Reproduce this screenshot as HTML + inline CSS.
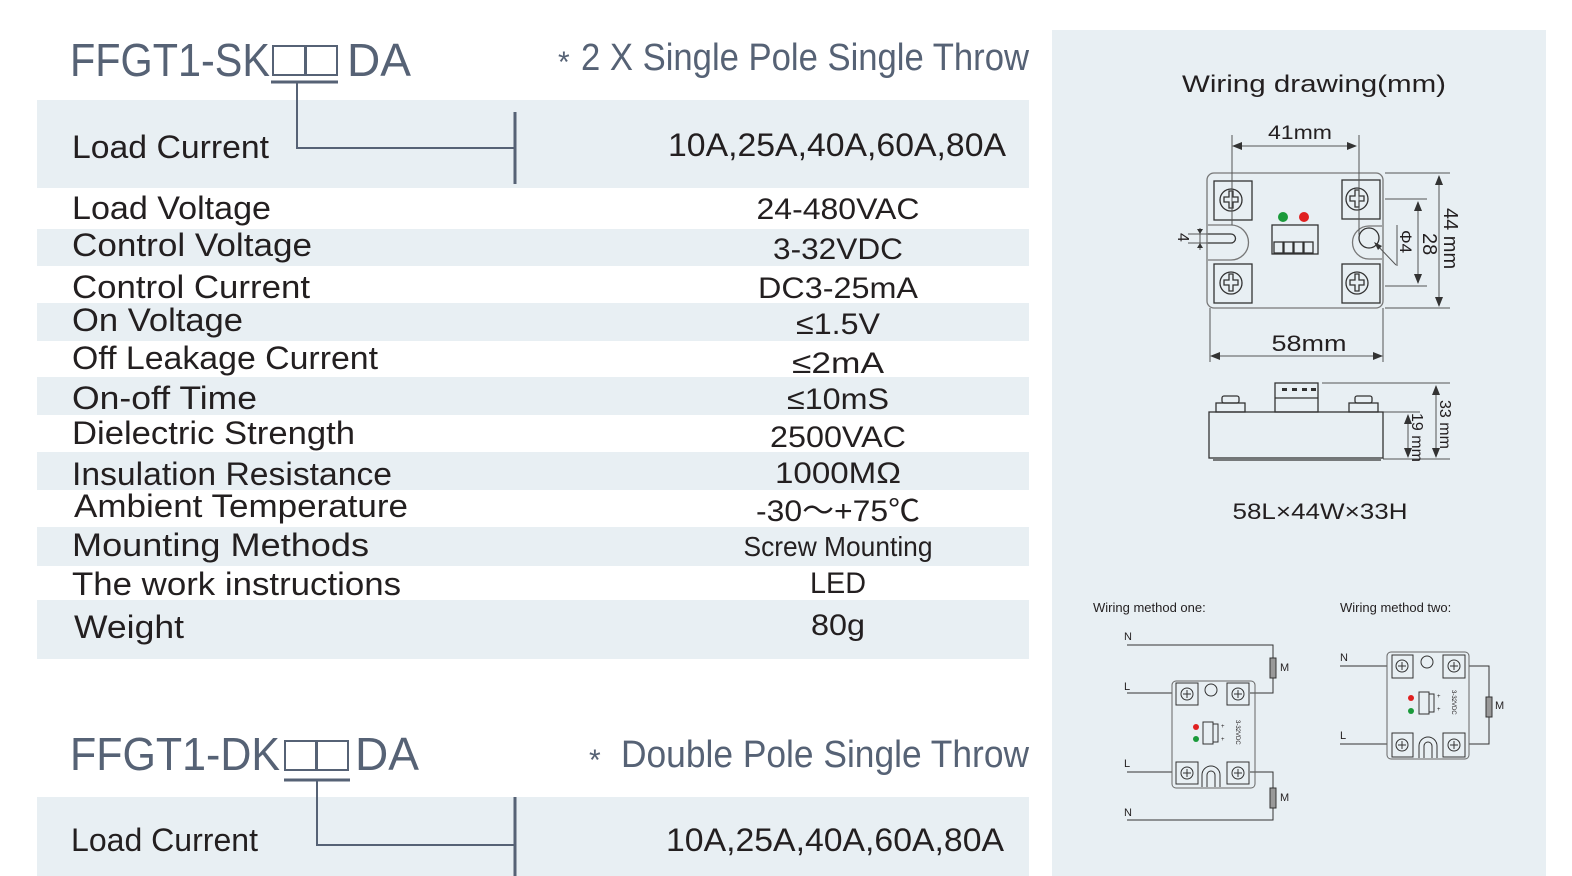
<!DOCTYPE html>
<html><head><meta charset="utf-8"><style>
html,body{margin:0;padding:0;background:#fff;width:1572px;height:876px;overflow:hidden;}
svg{display:block;position:absolute;left:0;top:0;}
text{font-family:"Liberation Sans",sans-serif;}
</style></head><body>
<svg width="1572" height="876" viewBox="0 0 1572 876" xmlns="http://www.w3.org/2000/svg">
<g fill="#e8eff3">
<rect x="37" y="100" width="992" height="88"/>
<rect x="37" y="229" width="992" height="37"/>
<rect x="37" y="303" width="992" height="38"/>
<rect x="37" y="377" width="992" height="38"/>
<rect x="37" y="452" width="992" height="38"/>
<rect x="37" y="527" width="992" height="39"/>
<rect x="37" y="600" width="992" height="59"/>
<rect x="37" y="797" width="992" height="79"/>
<rect x="1052" y="30" width="494" height="846"/>
</g>
<g fill="#566275">
<text x="70" y="76" font-size="46" textLength="200" lengthAdjust="spacingAndGlyphs">FFGT1-SK</text>
<text x="347" y="76" font-size="46" textLength="64" lengthAdjust="spacingAndGlyphs">DA</text>
<text x="558" y="72" font-size="30">*</text>
<text x="581" y="70" font-size="38" textLength="448" lengthAdjust="spacingAndGlyphs">2 X Single Pole Single Throw</text>
<text x="70" y="770" font-size="46" textLength="210" lengthAdjust="spacingAndGlyphs">FFGT1-DK</text>
<text x="355" y="770" font-size="46" textLength="64" lengthAdjust="spacingAndGlyphs">DA</text>
<text x="589" y="770" font-size="30">*</text>
<text x="621" y="767" font-size="38" textLength="408" lengthAdjust="spacingAndGlyphs">Double Pole Single Throw</text>
</g>
<g fill="none" stroke="#566275" stroke-width="2">
<rect x="273" y="46" width="32" height="29"/><rect x="306" y="46" width="31" height="29"/>
<rect x="285" y="741" width="31" height="29"/><rect x="317" y="741" width="31" height="29"/>
</g>
<g stroke="#566275" fill="none">
<line x1="271" y1="82" x2="338" y2="82" stroke-width="3"/>
<polyline points="297,82 297,148 515,148" stroke-width="2"/>
<line x1="515" y1="112" x2="515" y2="184" stroke-width="3"/>
<line x1="284" y1="780" x2="350" y2="780" stroke-width="3"/>
<polyline points="317,780 317,845 515,845" stroke-width="2"/>
<line x1="515" y1="797" x2="515" y2="876" stroke-width="3"/>
</g>
<g fill="#231f20" font-size="32">
<text x="72" y="158" textLength="197" lengthAdjust="spacingAndGlyphs">Load Current</text>
<text x="72" y="219" textLength="199" lengthAdjust="spacingAndGlyphs">Load Voltage</text>
<text x="72" y="256" textLength="240" lengthAdjust="spacingAndGlyphs">Control Voltage</text>
<text x="72" y="298" textLength="238" lengthAdjust="spacingAndGlyphs">Control Current</text>
<text x="72" y="331" textLength="171" lengthAdjust="spacingAndGlyphs">On Voltage</text>
<text x="72" y="369" textLength="306" lengthAdjust="spacingAndGlyphs">Off Leakage Current</text>
<text x="72" y="409" textLength="185" lengthAdjust="spacingAndGlyphs">On-off Time</text>
<text x="72" y="444" textLength="283" lengthAdjust="spacingAndGlyphs">Dielectric Strength</text>
<text x="72" y="485" textLength="320" lengthAdjust="spacingAndGlyphs">Insulation Resistance</text>
<text x="74" y="517" textLength="334" lengthAdjust="spacingAndGlyphs">Ambient Temperature</text>
<text x="72" y="556" textLength="297" lengthAdjust="spacingAndGlyphs">Mounting Methods</text>
<text x="72" y="595" textLength="329" lengthAdjust="spacingAndGlyphs">The work instructions</text>
<text x="74" y="638" textLength="110" lengthAdjust="spacingAndGlyphs">Weight</text>
<text x="71" y="851" textLength="187" lengthAdjust="spacingAndGlyphs">Load Current</text>
</g>
<g fill="#231f20" font-size="30" text-anchor="middle">
<text x="837" y="156" font-size="32" textLength="338" lengthAdjust="spacingAndGlyphs">10A,25A,40A,60A,80A</text>
<text x="838" y="219" textLength="163" lengthAdjust="spacingAndGlyphs">24-480VAC</text>
<text x="838" y="259" textLength="130" lengthAdjust="spacingAndGlyphs">3-32VDC</text>
<text x="838" y="298" textLength="160" lengthAdjust="spacingAndGlyphs">DC3-25mA</text>
<text x="838" y="334" textLength="84" lengthAdjust="spacingAndGlyphs">≤1.5V</text>
<text x="838" y="373" textLength="92" lengthAdjust="spacingAndGlyphs">≤2mA</text>
<text x="838" y="409" textLength="102" lengthAdjust="spacingAndGlyphs">≤10mS</text>
<text x="838" y="447" textLength="136" lengthAdjust="spacingAndGlyphs">2500VAC</text>
<text x="838" y="483" textLength="126" lengthAdjust="spacingAndGlyphs">1000MΩ</text>
<text x="838" y="521" textLength="164" lengthAdjust="spacingAndGlyphs">-30～+75℃</text>
<text x="838" y="556" font-size="28" textLength="189" lengthAdjust="spacingAndGlyphs">Screw Mounting</text>
<text x="838" y="593" textLength="56" lengthAdjust="spacingAndGlyphs">LED</text>
<text x="838" y="635" textLength="54" lengthAdjust="spacingAndGlyphs">80g</text>
<text x="835" y="851" font-size="32" textLength="338" lengthAdjust="spacingAndGlyphs">10A,25A,40A,60A,80A</text>
</g>
<text x="1314" y="92" font-size="24" fill="#231f20" text-anchor="middle" textLength="264" lengthAdjust="spacingAndGlyphs">Wiring drawing(mm)</text>
<g stroke="#333" fill="none" stroke-width="1.3">
<rect x="1207" y="173" width="176" height="135" rx="7" stroke="#777"/>
<rect x="1214" y="181" width="38" height="39"/><rect x="1342" y="180" width="38" height="39"/>
<rect x="1214" y="264" width="38" height="39"/><rect x="1342" y="264" width="38" height="39"/>
<circle cx="1231" cy="200" r="11"/><circle cx="1357" cy="199" r="11"/>
<circle cx="1231" cy="283" r="11"/><circle cx="1357" cy="283" r="11"/>
<path d="M1224 197h5v-6h4v6h5v5h-5v6h-4v-6h-5z M1350 196h5v-6h4v6h5v5h-5v6h-4v-6h-5z M1224 280h5v-6h4v6h5v5h-5v6h-4v-6h-5z M1350 280h5v-6h4v6h5v5h-5v6h-4v-6h-5z"/>
<path d="M1208 225h23a17 17 0 0 1 0 35h-23" stroke="#777"/>
<path d="M1208 234h23a4.5 4.5 0 0 1 0 9h-23"/>
<path d="M1382 226h-13a16 16 0 0 0 0 33h13" stroke="#777"/>
<circle cx="1369" cy="238" r="10"/>
<rect x="1272" y="225" width="46" height="29"/>
<rect x="1274" y="242" width="9" height="11"/><rect x="1284" y="242" width="9" height="11"/><rect x="1294" y="242" width="9" height="11"/><rect x="1304" y="242" width="9" height="11"/>
<g stroke="#555" stroke-width="1">
<line x1="1232" y1="135" x2="1232" y2="225"/><line x1="1359" y1="135" x2="1359" y2="235"/>
<line x1="1234" y1="146" x2="1356" y2="146"/>
<line x1="1210" y1="308" x2="1210" y2="362"/><line x1="1383" y1="308" x2="1383" y2="362"/>
<line x1="1212" y1="356" x2="1381" y2="356"/>
<line x1="1385" y1="173" x2="1450" y2="173"/><line x1="1385" y1="308" x2="1450" y2="308"/>
<line x1="1439" y1="176" x2="1439" y2="306"/>
<line x1="1385" y1="199" x2="1427" y2="199"/><line x1="1385" y1="286" x2="1427" y2="286"/>
<line x1="1418" y1="202" x2="1418" y2="283"/>
<line x1="1397" y1="225" x2="1397" y2="266"/><line x1="1375" y1="243" x2="1396" y2="265"/>
<line x1="1188" y1="234" x2="1208" y2="234"/><line x1="1188" y1="243" x2="1208" y2="243"/>
<line x1="1200" y1="228" x2="1200" y2="250"/>
<line x1="1322" y1="383" x2="1450" y2="383"/><line x1="1383" y1="459" x2="1450" y2="459"/>
<line x1="1436" y1="386" x2="1436" y2="457"/>
<line x1="1383" y1="412" x2="1420" y2="412"/>
<line x1="1408" y1="415" x2="1408" y2="457"/>
</g>
<rect x="1209" y="412" width="174" height="46"/>
<line x1="1213" y1="460" x2="1381" y2="460"/>
<rect x="1275" y="383" width="43" height="29"/>
<line x1="1275" y1="398" x2="1318" y2="398"/>
<rect x="1216" y="403" width="29" height="9"/><rect x="1222" y="396" width="17" height="7" rx="2"/>
<rect x="1349" y="403" width="29" height="9"/><rect x="1355" y="396" width="17" height="7" rx="2"/>
</g>
<g fill="#333">
<polygon points="1232,146 1242,142 1242,150"/><polygon points="1357,146 1347,142 1347,150"/>
<polygon points="1210,356 1220,352 1220,360"/><polygon points="1383,356 1373,352 1373,360"/>
<polygon points="1439,175 1435,185 1443,185"/><polygon points="1439,307 1435,297 1443,297"/>
<polygon points="1418,201 1414,211 1422,211"/><polygon points="1418,284 1414,274 1422,274"/>
<polygon points="1200,234 1197,229 1203,229"/><polygon points="1200,243 1197,248 1203,248"/>
<polygon points="1374,242 1382,246 1378,250"/>
<polygon points="1436,385 1432,395 1440,395"/><polygon points="1436,458 1432,448 1440,448"/>
<polygon points="1408,414 1404,424 1412,424"/><polygon points="1408,458 1404,448 1412,448"/>
<rect x="1282" y="388" width="5" height="3"/><rect x="1292" y="388" width="5" height="3"/><rect x="1302" y="388" width="5" height="3"/><rect x="1311" y="388" width="5" height="3"/>
</g>
<circle cx="1283" cy="217" r="5" fill="#1a9a3a"/><circle cx="1304" cy="217" r="5" fill="#e02020"/>
<g fill="#231f20" font-size="19">
<text x="1300" y="139" text-anchor="middle" textLength="64" lengthAdjust="spacingAndGlyphs">41mm</text>
<text x="1309" y="351" text-anchor="middle" font-size="22" textLength="75" lengthAdjust="spacingAndGlyphs">58mm</text>
<text transform="translate(1444,208) rotate(90)" font-size="20">44 mm</text>
<text transform="translate(1423,233) rotate(90)" font-size="20">28</text>
<text transform="translate(1400,230) rotate(90)" font-size="17">Φ4</text>
<text transform="translate(1178,233) rotate(90)" font-size="16">4</text>
<text transform="translate(1440,400) rotate(90)" font-size="16">33 mm</text>
<text transform="translate(1412,413) rotate(90)" font-size="16">19 mm</text>
<text x="1320" y="519" text-anchor="middle" font-size="22" textLength="175" lengthAdjust="spacingAndGlyphs">58L×44W×33H</text>
</g>
<g fill="#231f20" font-size="13">
<text x="1093" y="612">Wiring method one:</text>
<text x="1340" y="612">Wiring method two:</text>
<g font-size="11">
<text x="1124" y="640">N</text><text x="1124" y="690">L</text><text x="1124" y="767">L</text><text x="1124" y="816">N</text>
<text x="1280" y="671">M</text><text x="1280" y="801">M</text>
<text x="1340" y="661">N</text><text x="1340" y="739">L</text><text x="1495" y="709">M</text>
</g>
</g>
<g stroke="#333" stroke-width="1" fill="none">
<polyline points="1127,645 1273,645 1273,693 1250,693"/>
<line x1="1127" y1="693" x2="1172" y2="693"/><line x1="1127" y1="772" x2="1172" y2="772"/>
<polyline points="1250,772 1273,772 1273,820 1127,820"/>
<rect x="1270" y="658" width="6" height="20" fill="#999"/><rect x="1270" y="788" width="6" height="20" fill="#999"/>
<rect x="1172" y="681" width="83" height="107" rx="4" stroke="#666"/>
<rect x="1176" y="683" width="22" height="22"/><rect x="1227" y="683" width="22" height="22"/>
<rect x="1176" y="762" width="22" height="22"/><rect x="1227" y="762" width="22" height="22"/>
<circle cx="1187" cy="694" r="6"/><circle cx="1238" cy="694" r="6"/><circle cx="1187" cy="773" r="6"/><circle cx="1238" cy="773" r="6"/>
<path d="M1183 694h8M1187 690v8M1234 694h8M1238 690v8M1183 773h8M1187 769v8M1234 773h8M1238 769v8"/>
<circle cx="1211" cy="690" r="6"/>
<path d="M1202 787v-12a9 9 0 0 1 18 0v12 M1207 787v-12a4 4 0 0 1 8 0v12"/>
<rect x="1203" y="722" width="10" height="22"/><rect x="1213" y="724" width="5" height="18"/>
<line x1="1340" y1="666" x2="1387" y2="666"/><line x1="1340" y1="744" x2="1387" y2="744"/>
<polyline points="1469,666 1489,666 1489,744 1469,744"/>
<rect x="1486" y="697" width="6" height="20" fill="#999"/>
<rect x="1387" y="652" width="82" height="107" rx="4" stroke="#666"/>
<rect x="1392" y="655" width="21" height="23"/><rect x="1443" y="655" width="22" height="23"/>
<rect x="1392" y="733" width="21" height="24"/><rect x="1443" y="733" width="22" height="24"/>
<circle cx="1402" cy="666" r="6"/><circle cx="1454" cy="666" r="6"/><circle cx="1402" cy="745" r="6"/><circle cx="1454" cy="745" r="6"/>
<path d="M1398 666h8M1402 662v8M1450 666h8M1454 662v8M1398 745h8M1402 741v8M1450 745h8M1454 741v8"/>
<circle cx="1427" cy="662" r="6"/>
<path d="M1419 758v-12a9 9 0 0 1 18 0v12 M1424 758v-12a4 4 0 0 1 8 0v12"/>
<rect x="1419" y="692" width="10" height="22"/><rect x="1429" y="694" width="5" height="18"/>
</g>
<circle cx="1196" cy="727" r="3" fill="#e02020"/><circle cx="1196" cy="739" r="3" fill="#1a9a3a"/>
<circle cx="1411" cy="698" r="3" fill="#e02020"/><circle cx="1411" cy="711" r="3" fill="#1a9a3a"/>
<g fill="#231f20" font-size="6">
<text transform="translate(1236,720) rotate(90)">3-32VDC</text>
<text transform="translate(1452,690) rotate(90)">3-32VDC</text>
<text x="1221" y="728">+</text><text x="1221" y="741">+</text>
<text x="1437" y="698">+</text><text x="1437" y="711">+</text>
</g>
</svg>
</body></html>
